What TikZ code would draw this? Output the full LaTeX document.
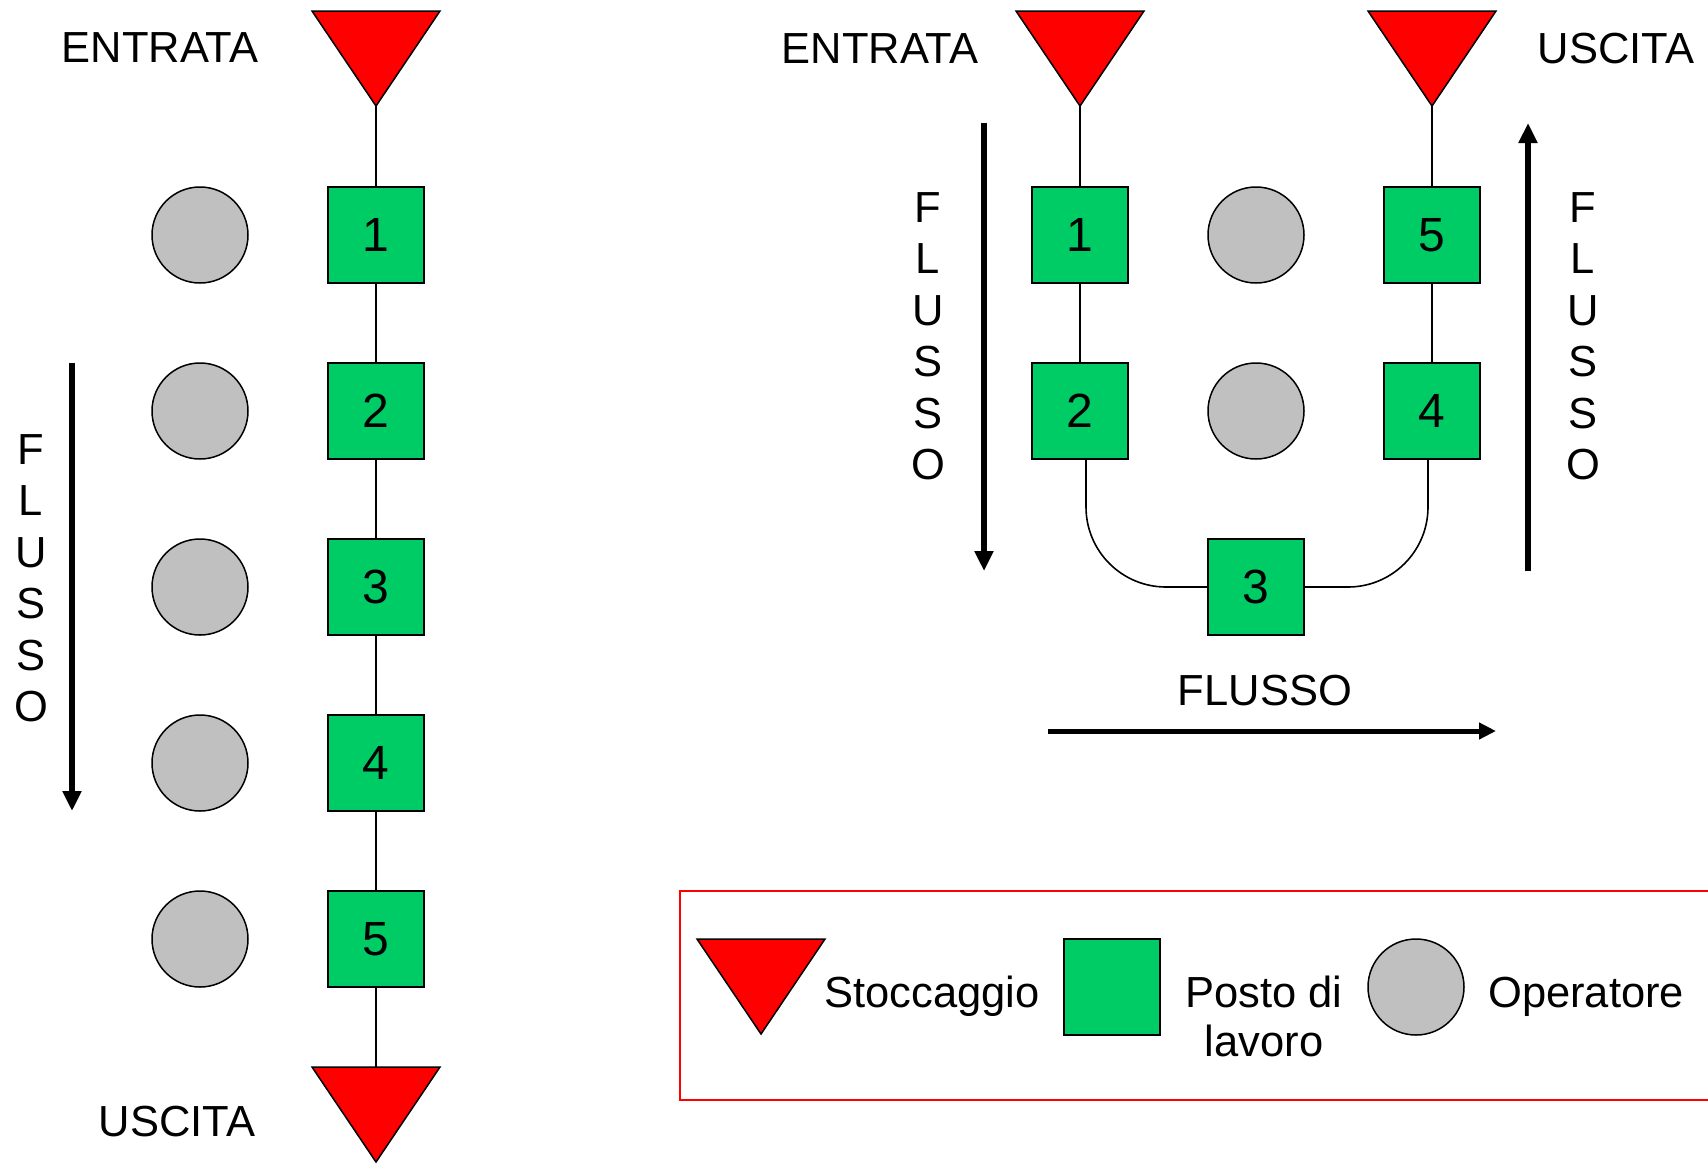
\documentclass[tikz,border=0pt]{standalone}
\usepackage{fontspec}
\setmainfont{Liberation Sans}
\usetikzlibrary{arrows.meta}
\definecolor{stockred}{RGB}{255,0,0}
\definecolor{workgreen}{RGB}{0,204,102}
\definecolor{opgray}{RGB}{192,192,192}

% storage symbol: downward triangle, with named tip and top-edge midpoint
\newcommand\stockpile[3]{%
  \draw[store] (#2-64,#3) -- (#2+64,#3) -- (#2,#3+95) -- cycle;
  \coordinate (#1-tip) at (#2,#3+95);
  \coordinate (#1-top) at (#2,#3);}

\begin{document}
\begin{tikzpicture}[x=1pt,y=-1pt,
  station/.style={draw=black, line width=1.5pt, fill=workgreen, minimum size=96pt,
    inner sep=0pt, font=\fontsize{48}{56}\selectfont},
  operator/.style={circle, draw=black, line width=1.5pt, fill=opgray, minimum size=96pt, inner sep=0pt},
  store/.style={draw=black, line width=1.5pt, fill=stockred, line join=miter},
  link/.style={line width=1.6pt},
  flow/.style={line width=5.5pt, -{Triangle[length=20pt,width=18pt]}},
  txt/.style={font=\fontsize{43.5}{49}\selectfont, inner sep=0pt},
  vtxt/.style={font=\fontsize{43.5}{51.5}\selectfont, inner sep=0pt, align=center},
]
\useasboundingbox (0,0) rectangle (1708,1163);

% ---------------- straight line layout ----------------
\stockpile{inL}{376}{11}
\stockpile{outL}{376}{1067}
\node[txt, anchor=base] (entL) at (160,62) {ENTRATA};
\node[txt, anchor=base] (uscL) at (177,1136) {USCITA};

\foreach \i/\y in {1/235,2/411,3/587,4/763,5/939}{
  \node[station] (l\i) at (376,\y) {\i};
  \node[operator] (o\i) at (200,\y) {};
}
\draw[link] (inL-tip) -- (l1);
\draw[link] (l1) -- (l2);
\draw[link] (l2) -- (l3);
\draw[link] (l3) -- (l4);
\draw[link] (l4) -- (l5);
\draw[link] (l5) -- (outL-top);

\coordinate (fL1) at (72,363);
\coordinate (fL2) at (72,811);
\draw[flow] (fL1) -- (fL2);
\node[vtxt] (flL) at (31,578) {F\\L\\U\\S\\S\\O};

% ---------------- U-shaped layout ----------------
\stockpile{inR}{1080}{11}
\stockpile{outR}{1432}{11}
\node[txt, anchor=base] (entR) at (880,63) {ENTRATA};
\node[txt, anchor=base] (uscR) at (1616,63) {USCITA};

\node[station] (r1) at (1080,235) {1};
\node[station] (r2) at (1080,411) {2};
\node[station] (r3) at (1256,587) {3};
\node[station] (r4) at (1432,411) {4};
\node[station] (r5) at (1432,235) {5};
\node[operator] (p1) at (1256,235) {};
\node[operator] (p2) at (1256,411) {};

\draw[link] (inR-tip) -- (r1);
\draw[link] (r1) -- (r2);
\draw[link, rounded corners=80pt] ([xshift=6pt]r2.south) |- (r3.west);
\draw[link, rounded corners=80pt] ([xshift=-4pt]r4.south) |- (r3.east);
\draw[link] (r4) -- (r5);
\draw[link] (r5) -- (outR-tip);

\coordinate (fA1) at (984,123);
\coordinate (fA2) at (984,571);
\draw[flow] (fA1) -- (fA2);
\node[vtxt] (flA) at (928,336) {F\\L\\U\\S\\S\\O};

\coordinate (fB1) at (1528,571);
\coordinate (fB2) at (1528,123);
\draw[flow] (fB1) -- (fB2);
\node[vtxt] (flB) at (1583,336) {F\\L\\U\\S\\S\\O};

\coordinate (fC1) at (1048,731);
\coordinate (fC2) at (1496,731);
\draw[flow, line width=5pt, -{Triangle[length=17pt,width=16pt]}] (fC1) -- (fC2);
\node[txt, anchor=base] (flC) at (1265,705) {FLUSSO};

% ---------------- legend ----------------
\draw[stockred, line width=1.5pt] (680,891) rectangle (1730,1100);
\stockpile{leg}{761}{939}
\node[txt, anchor=base west] (legS) at (824,1007) {Stoccaggio};
\node[station] (legW) at (1112,987) {};
\node[txt, anchor=base, align=center] (legP) at (1264,1056) {Posto di\\lavoro};
\node[operator] (legO) at (1416,987) {};
\node[txt, anchor=base west] (legOp) at (1488,1007) {Operatore};
\end{tikzpicture}
\end{document}
